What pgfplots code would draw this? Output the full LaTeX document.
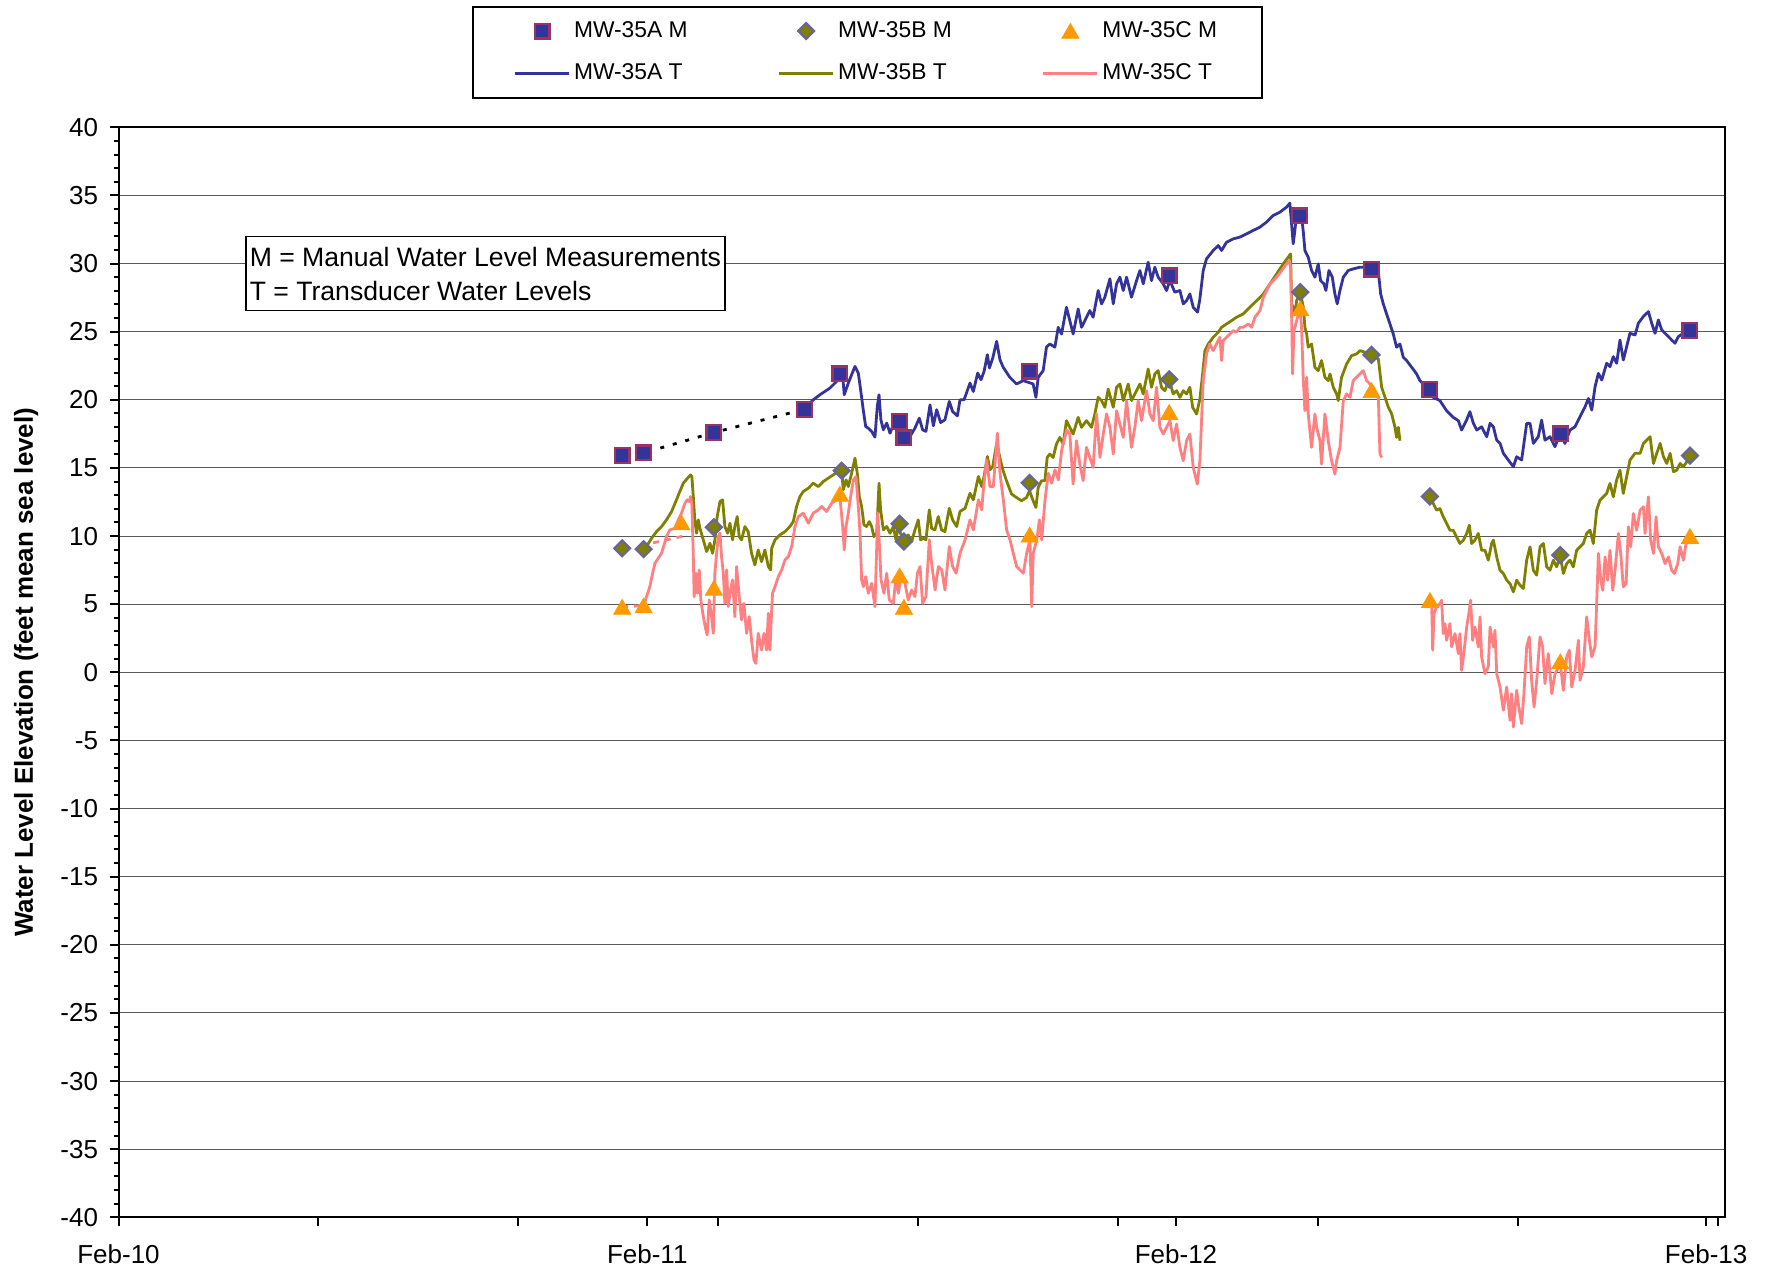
\documentclass[border=0pt]{standalone}
\usepackage{fontspec}
\setmainfont{Liberation Sans}
\usepackage{pgfplots}
\pgfplotsset{compat=1.18}
\definecolor{wlNavy}{HTML}{333399}
\definecolor{wlOlive}{HTML}{808000}
\definecolor{wlPink}{HTML}{FF8080}
\definecolor{wlPlum}{HTML}{993366}
\definecolor{wlSlate}{HTML}{666699}
\definecolor{wlOrange}{HTML}{FF9900}
\pgfplotsset{
  wlimg/.style={legend image code/.code={\draw[mark repeat=2,mark phase=2,##1] plot coordinates {(0pt,0pt) (13.5pt,0pt) (27pt,0pt)};}},
  wlline/.style={line width=1.4pt, line join=round, no markers},
}
\begin{document}
\begin{tikzpicture}
\path[use as bounding box] (0,0) rectangle (884.5pt,635.5pt);
\begin{axis}[
  at={(59.25pt,26.85pt)}, anchor=south west,
  scale only axis, width=803.25pt, height=545pt,
  xmin=0, xmax=1109, ymin=-40, ymax=40,
  xtick={0,365,730,1096},
  xticklabels={Feb-10,Feb-11,Feb-12,Feb-13},
  extra x ticks={138,276,414,552,690,828,966,1104},
  extra x tick labels={},
  ytick={-40,-35,...,40},
  minor y tick num=4,
  minor x tick num=0,
  ymajorgrids,
  major grid style={black!65, line width=0.5pt},
  tick align=outside,
  tick pos=left,
  major tick length=4.5pt, minor tick length=2.5pt,
  every tick/.style={black, line width=1pt},
  axis line style={line width=1pt},
  /pgf/number format/assume math mode=true,
  tick label style={font=\fontsize{13}{15}\selectfont},
  xticklabel style={yshift=-5.6pt},
  yticklabel style={xshift=-2.2pt},
  ylabel={Water Level Elevation (feet mean sea level)},
  ylabel style={font=\bfseries\fontsize{13}{15}\selectfont, at={(axis description cs:-0.0575,0.5)}, anchor=center},
  legend columns=3,
  legend cell align=left,
  legend style={at={(axis description cs:0.2198,1.1117)}, anchor=north west,
    draw=black, line width=1pt, fill=white,
    font=\fontsize{11.4}{13.5}\selectfont,
    inner xsep=20.5pt, inner ysep=5.5pt, row sep=7.6pt,
    nodes={inner xsep=1.8pt, inner ysep=2pt},
    /tikz/every even column/.append style={column sep=43.3pt}},
]

% transducer records (drawn first, markers go on top)
\addplot[wlline, color=wlNavy, forget plot] coordinates {
(475.0,19.5)(479.6,20.0)(484.2,20.37)(491.1,20.86)(495.7,21.35)(499.9,21.76)(501.0,20.37)(503.8,21.23)(508.4,22.45)(510.7,21.96)(512.3,20.74)(514.1,19.27)(515.8,18.04)(517.6,17.92)(519.9,17.68)(522.2,17.26)(523.8,19.51)(525.0,20.37)(526.3,18.53)(528.0,17.80)(530.3,18.29)(532.6,17.55)(534.9,18.17)(538.3,17.68)(542.9,17.68)(546.4,17.31)(549.8,17.92)(552.8,18.65)(555.1,17.80)(557.4,17.68)(560.2,19.63)(562.5,18.09)(564.8,19.27)(567.5,18.33)(570.5,18.53)(573.5,19.88)(575.8,19.14)(579.1,18.82)(580.9,20.0)(583.7,20.0)(587.8,21.23)(590.1,20.61)(593.1,21.96)(595.4,21.47)(597.5,22.08)(599.8,23.31)(601.2,22.33)(603.5,23.06)(606.2,24.29)(608.5,22.94)
(610.7,22.39)(615.3,21.65)(619.9,21.16)(624.5,21.41)(631.4,21.16)(633.3,20.18)(634.9,21.65)(638.3,22.14)(640.6,23.86)(642.9,24.1)(646.4,23.86)(648.7,25.32)(651.0,24.83)(654.4,26.79)(656.7,25.81)(659.0,24.83)(662.5,26.67)(664.8,25.32)(667.1,25.81)(670.5,26.55)(672.8,26.06)(676.3,28.02)(678.6,27.04)(680.9,27.53)(684.4,28.88)(686.7,27.04)(689.0,28.51)(691.3,29.0)(693.6,28.02)(695.9,29.0)(699.3,27.53)(702.8,28.75)(705.1,29.49)(707.4,28.51)(710.8,30.1)(713.1,28.75)(715.4,29.73)(717.7,29.0)(721.2,28.51)(723.5,28.02)(725.8,28.75)(729.2,27.9)(732.7,28.02)(735.0,27.04)(737.3,27.28)(739.6,27.77)(741.9,26.79)(744.9,26.43)(746.5,27.41)(748.8,29.49)(751.1,30.35)(755.7,30.96)(759.2,31.32)(761.5,30.96)(764.9,31.57)(769.5,31.81)(774.1,31.94)(778.7,32.18)(783.3,32.43)(787.9,32.67)(792.5,33.04)(797.1,33.53)(801.7,33.77)(806.3,34.14)(808.6,34.43)(809.8,32.92)(810.9,31.45)(812.1,32.43)(813.2,33.65)(816.7,33.53)(817.9,32.31)(819.0,30.96)(821.3,30.47)(823.6,29.49)(825.9,29.0)(828.2,29.98)(829.8,28.75)(832.1,28.51)(833.5,28.02)(835.6,29.49)(837.9,29.0)(839.7,27.77)(841.3,27.04)(843.2,28.02)(845.5,29.0)(848.9,29.49)(852.4,29.61)(857.0,29.73)(861.6,29.73)(869.6,29.49)(871.3,27.77)(873.1,27.04)(875.4,26.3)(877.7,25.57)(880.0,24.83)(882.3,23.86)(884.6,24.1)(886.9,23.12)(889.2,22.88)(892.7,22.39)(896.1,21.9)(898.4,21.41)(903.0,20.92)(907.6,20.18)(912.2,19.94)(916.8,19.2)(921.4,18.71)(924.9,18.47)
(927.2,17.78)(930.6,18.51)(932.9,19.13)(935.3,18.27)(937.6,17.78)(941.0,18.02)(944.5,17.29)(946.8,18.27)(949.1,18.02)(951.4,17.04)(953.7,16.8)(956.0,16.07)(959.4,15.58)(962.9,15.09)(965.2,15.82)(968.6,15.58)(972.1,18.27)(974.4,18.27)(976.7,16.8)(980.1,17.29)(982.4,18.51)(984.7,17.04)(988.2,17.29)(991.6,16.56)(995.3,17.53)(998.5,16.8)(1002.0,17.78)(1005.4,18.02)(1008.9,18.76)(1012.4,19.49)(1014.7,20.1)(1017.0,19.25)(1019.3,20.96)(1021.6,21.94)(1023.9,21.45)(1027.3,22.68)(1029.6,22.43)(1031.9,23.17)(1034.2,22.68)(1036.5,24.39)(1038.8,22.92)(1041.1,23.9)(1043.4,24.88)(1046.9,24.76)(1049.2,25.62)(1052.6,26.11)(1056.1,26.47)(1058.4,25.62)(1060.7,24.88)(1063.0,25.86)(1065.3,25.13)(1067.6,24.88)(1069.9,24.64)(1072.2,24.39)(1074.5,24.15)(1076.8,24.64)(1080.3,24.88)(1084.8,25.13)
};

\addplot[wlline, color=wlOlive, forget plot] coordinates {
(362.5,9.03)(364.5,9.23)(368.0,9.84)(371.4,10.33)(374.9,10.70)(378.3,11.19)(381.8,11.8)(385.2,12.66)(387.5,13.27)(389.9,13.88)(392.2,14.17)(394.9,14.49)(395.8,14.37)(396.8,12.9)(397.9,11.06)(399.1,10.21)(400.2,11.19)(401.4,10.57)(403.7,9.72)(406.0,8.86)(408.3,9.47)(410.1,8.74)(411.7,9.72)(413.3,11.43)(415.2,12.53)(417.0,12.66)(418.6,10.70)(420.5,10.21)(422.1,10.94)(423.9,9.72)(425.5,10.70)(427.1,11.43)(428.5,9.96)(430.1,9.72)(432.4,10.70)(434.7,10.33)(437.0,8.74)(439.3,7.88)(441.6,8.98)(443.9,8.12)(446.2,8.98)(448.6,7.76)(450.2,7.51)(450.9,9.10)(453.2,9.72)(456.6,10.08)(460.1,10.33)(463.5,10.7)(465.8,11.06)(468.1,12.17)(470.4,12.9)(472.7,13.27)(476.2,13.51)(479.6,13.88)(483.1,13.63)(486.5,14.0)(490.0,14.25)(493.4,14.49)(496.9,14.74)(499.2,14.86)(500.3,13.39)(502.2,14.12)(503.8,13.63)(506.1,14.61)(508.4,15.72)(510.0,14.61)(511.4,12.9)(513.0,12.17)(514.6,10.82)(516.4,10.70)(518.3,11.06)(519.9,10.70)(521.5,9.96)(523.4,10.21)(525.0,13.88)(526.1,11.92)(528.0,10.45)(530.3,10.70)(532.6,10.21)(534.9,10.70)(536.7,9.72)(538.3,10.70)(540.6,9.96)(542.9,9.72)(545.2,10.08)(547.5,9.59)(549.8,10.45)(552.1,11.19)(553.7,9.72)(555.6,9.84)(557.4,9.72)(559.7,11.92)(561.3,10.57)(563.6,10.45)(565.9,11.43)(568.2,10.45)(570.5,10.33)(573.5,12.04)(575.8,11.19)(578.6,10.70)(580.9,11.8)(584.4,12.04)(587.8,13.14)(590.1,12.66)(593.6,14.37)(595.9,13.63)(597.5,14.37)(599.8,15.84)(601.6,14.86)(603.5,15.1)(606.2,16.82)
(608.4,15.77)(610.7,14.79)(613.0,14.06)(616.5,13.08)(619.9,12.83)(623.4,12.59)(626.8,12.83)(628.9,13.32)(631.4,12.59)(633.3,12.1)(634.9,13.57)(637.2,14.06)(639.5,14.06)(641.1,15.77)(642.9,16.02)(645.2,15.77)(647.5,16.75)(649.8,17.24)(652.1,16.75)(654.4,18.47)(656.7,17.98)(659.0,17.49)(662.5,18.71)(664.8,17.98)(668.2,18.47)(671.7,17.98)(674.0,18.96)(676.3,20.18)(678.6,19.94)(680.9,19.45)(683.2,20.79)(686.7,19.45)(689.0,20.92)(691.3,21.16)(693.6,19.94)(697.0,21.16)(699.3,19.94)(701.6,20.43)(705.1,21.16)(707.4,20.43)(710.8,22.26)(713.1,20.92)(715.4,21.9)(717.7,22.14)(720.0,20.92)(722.3,20.67)(725.3,21.48)(728.1,20.43)(730.4,20.67)(732.7,20.18)(735.0,20.67)(737.3,20.43)(739.6,20.92)(741.5,19.45)(744.2,18.96)(746.5,20.06)(748.4,21.9)(750.0,23.61)(752.3,24.1)(755.7,24.59)(759.2,24.96)(761.5,25.32)(764.9,25.57)(768.4,25.81)(771.8,26.06)(776.4,26.3)(781.0,26.79)(785.7,27.28)(790.3,27.77)(794.9,28.51)(799.5,29.24)(804.1,29.98)(807.5,30.47)(809.1,30.71)(809.8,27.04)(810.9,26.79)(812.1,26.3)(813.3,27.28)(815.8,27.87)(817.9,26.79)(819.0,25.32)(820.2,24.83)(821.3,23.86)(823.6,24.1)(825.9,22.39)(828.2,22.14)(830.5,22.88)(832.8,21.65)(835.1,21.41)(836.3,21.9)(838.6,20.92)(840.9,20.43)(842.0,19.94)(844.3,21.65)(847.8,22.63)(851.2,23.24)(854.7,23.37)(857.0,23.61)(860.5,23.49)(865.0,23.24)(869.7,23.0)(872.0,20.92)(874.3,20.18)(876.6,19.45)(878.9,18.96)(881.2,17.98)(882.3,17.24)(883.5,17.98)(884.6,17.0)
};
\addplot[wlline, color=wlOlive, forget plot] coordinates {
(905.3,12.88)(907.6,12.39)(909.9,11.9)(912.2,12.02)(914.5,11.41)(916.8,10.92)(919.1,10.43)(921.4,10.43)(923.7,9.94)(926.0,9.45)(928.4,9.70)(930.7,10.19)(932.5,10.8)(934.1,9.45)(936.4,9.70)(938.7,10.19)(941.0,8.96)(943.3,8.96)(945.6,8.23)(947.9,9.45)(949.1,9.70)(951.4,8.47)(953.7,7.49)(956.0,7.25)(958.3,6.76)(960.6,6.51)(962.9,5.9)(965.2,6.76)(967.5,6.39)(969.8,6.15)(972.1,8.23)(974.4,9.21)(976.7,7.49)(979.0,7.13)(981.3,9.21)(983.6,9.45)(985.9,7.74)(988.2,7.49)(990.5,8.23)(992.8,7.74)(995.3,8.57)(997.4,7.25)(999.7,7.98)(1002.0,8.23)(1004.3,7.74)(1006.6,8.96)(1008.9,9.21)(1011.2,9.45)(1013.5,10.19)(1015.8,10.43)(1018.1,9.45)(1020.4,11.9)(1022.7,12.64)(1025.0,12.88)(1027.3,13.13)(1029.6,13.86)(1031.9,12.88)(1034.2,14.11)(1036.5,14.84)(1038.8,13.13)(1041.1,14.35)(1043.4,15.58)(1046.9,16.07)(1050.4,16.07)(1052.7,16.8)(1055.0,17.05)(1057.3,17.29)(1059.6,15.33)(1061.9,16.07)(1064.2,16.8)(1066.5,15.82)(1068.8,15.33)(1071.1,16.07)(1073.4,14.72)(1075.7,14.84)(1078.0,15.33)(1080.3,15.09)(1082.6,15.45)(1084.9,15.89)
};

\addplot[wlline, color=wlPink, forget plot] coordinates {
(362.5,4.89)(364.5,5.55)(366.8,6.29)(368.7,7.27)(370.3,8.0)(372.6,8.37)(374.9,8.74)(378.3,9.96)(380.6,10.45)(384.1,10.57)(386.4,11.19)(388.7,11.68)(391.0,12.41)(392.6,12.66)(394.0,12.53)(394.9,12.9)(395.8,12.41)(396.8,8.49)(397.4,5.55)(398.6,7.27)(399.7,5.8)(400.9,7.51)(402.0,5.31)(403.7,4.08)(405.5,3.1)(406.4,2.74)(407.8,5.31)(409.4,4.08)(410.6,2.86)(411.7,7.27)(412.9,8.74)(414.0,9.96)(415.2,10.21)(416.3,8.49)(417.5,7.27)(418.6,5.06)(419.8,7.51)(420.9,4.82)(422.5,6.04)(423.9,6.78)(425.5,4.08)(426.7,7.76)(428.5,5.55)(430.1,3.84)(431.7,5.06)(433.6,2.86)(435.4,4.08)(437.0,2.37)(438.7,0.9)(440.0,0.65)(441.6,2.86)(443.9,1.63)(445.6,2.86)(447.4,1.63)(448.6,4.33)(449.7,1.63)(450.9,4.57)(451.5,5.8)(453.2,6.29)(455.5,7.02)(457.8,7.51)(460.1,8.25)(462.4,8.49)(464.7,9.23)(467.0,10.7)(469.3,11.43)(472.7,11.68)(476.2,10.94)(479.6,11.68)(483.1,11.92)(485.4,12.17)(488.8,11.8)(492.3,12.41)(495.7,12.66)(498.0,12.9)(499.9,10.7)(501.0,8.98)(502.2,10.7)(503.8,11.68)(505.4,12.9)(507.3,14.12)(509.1,14.37)(510.7,12.17)(511.9,10.21)(513.0,6.78)(514.2,6.29)(515.8,7.02)(517.6,5.8)(519.9,6.53)(522.2,4.82)(524.1,11.68)(525.2,9.47)(526.4,6.78)(528.4,5.8)(530.3,7.27)(532.1,5.31)(534.9,5.06)(536.7,7.02)(538.3,5.8)(540.6,7.27)(542.9,6.53)(545.2,5.31)(547.5,6.04)(549.8,5.55)(551.5,7.27)(553.3,7.76)(555.1,5.06)(557.4,5.55)(559.7,9.72)(561.3,8.0)(563.7,6.04)(566.0,7.76)(568.3,7.51)(570.5,6.04)(573.5,9.23)(575.8,7.76)(578.2,7.27)(580.9,8.74)(584.4,9.72)(587.8,11.19)(590.1,10.45)(593.6,12.66)(595.9,11.92)(597.0,13.39)(599.3,15.59)(601.6,13.63)(603.9,13.63)(606.7,17.55)(608.5,14.61)
(610.8,12.66)(613.1,10.45)(615.4,9.72)(617.7,8.74)(620.0,7.76)(622.3,7.51)(624.6,7.27)(626.9,8.74)(629.2,9.72)(630.4,4.82)(631.5,8.74)(633.9,9.72)(635.7,11.19)(637.3,9.72)(639.6,12.66)(641.9,14.61)(644.2,13.88)(646.5,14.86)(648.8,14.12)(651.1,16.33)(654.6,17.8)
(656.7,17.49)(659.0,13.81)(661.3,17.0)(663.6,15.28)(665.9,14.06)(668.2,16.51)(670.5,15.77)(672.8,15.04)(675.2,18.96)(677.5,15.77)(679.8,17.49)(682.1,18.96)(684.4,17.98)(686.7,16.02)(689.0,19.2)(691.3,18.22)(693.6,17.24)(695.9,19.94)(699.3,16.51)(701.6,17.98)(703.9,19.94)(706.2,18.47)(709.7,20.67)(712.0,18.96)(714.3,18.47)(716.6,20.92)(718.9,17.98)(721.2,17.49)(723.5,17.98)(725.8,18.47)(728.1,17.0)(730.4,18.22)(732.7,16.51)(735.0,15.53)(737.3,17.0)(739.6,17.49)(741.9,15.04)(744.7,13.81)(746.5,15.53)(748.8,21.41)(751.1,23.37)(753.4,24.1)(755.7,23.61)(758.0,24.1)(760.3,24.59)(761.5,22.88)(762.6,24.35)(764.9,24.59)(767.2,24.83)(769.5,25.08)(771.8,24.96)(774.1,25.32)(776.4,25.32)(779.9,25.57)(782.2,25.32)(784.5,26.06)(788.0,26.55)(790.3,27.53)(792.6,28.02)(794.9,28.51)(797.2,28.75)(799.5,29.0)(803.0,29.49)(806.4,29.98)(808.2,30.22)(809.1,29.73)(809.8,26.3)(810.5,21.9)(811.4,25.08)(812.1,25.32)(813.3,25.81)(815.6,26.67)(816.7,25.32)(817.9,21.41)(819.0,19.2)(820.2,21.65)(821.3,18.96)(823.6,16.51)(825.9,18.96)(827.1,17.98)(829.4,17.0)(830.5,15.28)(832.8,18.96)(835.1,17.0)(837.4,15.53)(839.7,14.55)(840.9,15.53)(843.2,16.51)(845.5,19.94)(847.8,20.43)(850.1,20.18)(852.4,21.41)(854.7,21.65)(857.0,21.9)(859.3,22.14)(861.6,21.41)(863.9,21.16)(866.2,20.92)(869.7,20.18)(870.8,16.02)(872.0,15.77)
};
\addplot[wlline, color=wlPink, forget plot] coordinates {
(905.3,5.24)(906.5,5.04)(907.2,1.62)(908.1,4.31)(909.9,4.8)(912.2,5.04)(913.4,5.29)(914.5,2.84)(915.7,3.58)(916.8,2.35)(919.1,3.58)(920.3,1.86)(922.6,2.84)(924.9,1.37)(926.0,2.84)(927.2,0.15)(928.4,1.13)(930.7,3.33)(932.5,4.55)(933.4,5.29)(934.8,2.35)(936.4,3.33)(938.7,1.86)(939.9,4.07)(941.0,1.13)(943.3,-0.1)(945.6,0.39)(946.8,3.33)(949.1,1.86)(950.2,3.09)(951.4,-0.1)(953.7,-1.08)(956.0,-2.79)(958.3,-1.08)(960.6,-3.53)(961.7,-1.57)(962.9,-4.02)(965.2,-1.32)(966.3,-2.3)(968.6,-3.77)(970.2,-1.57)(972.1,1.86)(973.9,2.6)(975.5,-0.59)(977.2,-2.55)(979.0,-0.59)(981.3,2.6)(983.1,1.86)(984.7,-0.83)(987.0,1.37)(989.4,-1.57)(991.7,-0.1)(995.3,0.64)(997.4,-1.32)(999.7,1.13)(1001.5,1.62)(1003.2,-1.08)(1005.5,0.15)(1007.8,2.35)(1008.9,-0.59)(1011.2,0.39)(1013.5,4.07)(1015.4,2.35)(1017.0,1.13)(1019.3,1.86)(1020.4,5.04)(1021.6,8.72)(1023.2,6.76)(1024.6,6.02)(1026.2,8.47)(1028.0,6.76)(1029.6,8.96)(1031.5,6.02)(1033.1,7.49)(1035.4,10.19)(1037.0,8.72)(1038.8,6.27)(1040.7,6.51)(1042.3,10.68)(1043.9,9.21)(1045.7,11.66)(1048.0,10.43)(1050.4,11.9)(1052.7,12.15)(1053.8,10.19)(1056.1,12.88)(1057.7,9.7)(1059.6,8.72)(1061.4,11.41)(1063.0,9.21)(1065.3,8.72)(1067.6,7.98)(1069.9,8.47)(1072.2,7.49)(1074.1,7.25)(1076.4,7.98)(1078.0,9.21)(1080.3,8.23)(1082.1,9.45)(1084.9,9.94)
};
% short gaps in the MW-35C record
\addplot[wlline, color=wlPink, dashed, forget plot] coordinates {(347.7,4.8)(362.5,4.9)};
\addplot[wlline, color=wlPink, dashed, forget plot] coordinates {(369,9.5)(390,10.0)};
% manual readings joined before the MW-35A transducer record starts
\addplot[black, line width=1.4pt, dash pattern=on 2pt off 4.5pt, forget plot] coordinates {
(347.7,15.9)(362.5,16.1)(411.0,17.6)(473.4,19.3)};

% manual water level measurements
\addplot[only marks, wlimg, mark=square*, mark size=3.7pt,
  mark options={fill=wlNavy, draw=wlPlum, line width=1.1pt}] coordinates {
(347.7,15.9)(362.5,16.1)(411.0,17.6)(473.4,19.3)(498.0,21.9)(539.2,18.4)(542.2,17.2)(629.0,22.1)(725.3,29.1)(815.3,33.5)(865.0,29.6)(905.3,20.75)(995.3,17.5)(1084.8,25.1)};
\addlegendentry{MW-35A M}
\addplot[only marks, wlimg, mark=square*, mark size=2.8pt,
  mark options={rotate=45, fill=wlOlive, draw=wlSlate, line width=1.1pt}] coordinates {
(347.7,9.1)(362.5,9.04)(411.0,10.65)(499.2,14.8)(539.2,10.9)(542.2,9.6)(629.0,13.9)(725.3,21.5)(815.8,27.9)(865.0,23.3)(905.3,12.9)(995.3,8.6)(1084.8,15.9)};
\addlegendentry{MW-35B M}
\addplot[only marks, wlimg, mark=triangle*, mark size=5pt,
  mark options={fill=wlOrange, draw=wlOrange, line width=0.3pt, yshift=-1.2pt}] coordinates {
(347.7,4.8)(362.5,4.9)(388.5,11.0)(411.0,6.2)(498.0,13.1)(539.2,7.1)(542.2,4.8)(629.0,10.1)(725.3,19.1)(815.8,26.7)(865.0,20.7)(905.3,5.3)(995.3,0.8)(1084.8,10.0)};
\addlegendentry{MW-35C M}

\addlegendimage{wlimg, wlline, color=wlNavy}
\addlegendentry{MW-35A T}
\addlegendimage{wlimg, wlline, color=wlOlive}
\addlegendentry{MW-35B T}
\addlegendimage{wlimg, wlline, color=wlPink}
\addlegendentry{MW-35C T}
\end{axis}

\node[draw=black, line width=0.75pt, fill=white, anchor=north west, align=left,
  inner xsep=2pt, inner ysep=5pt, font=\fontsize{13.3}{17}\selectfont]
  at (122.5pt,517.5pt) {M = Manual Water Level Measurements\\T = Transducer Water Levels};
\end{tikzpicture}
\end{document}
